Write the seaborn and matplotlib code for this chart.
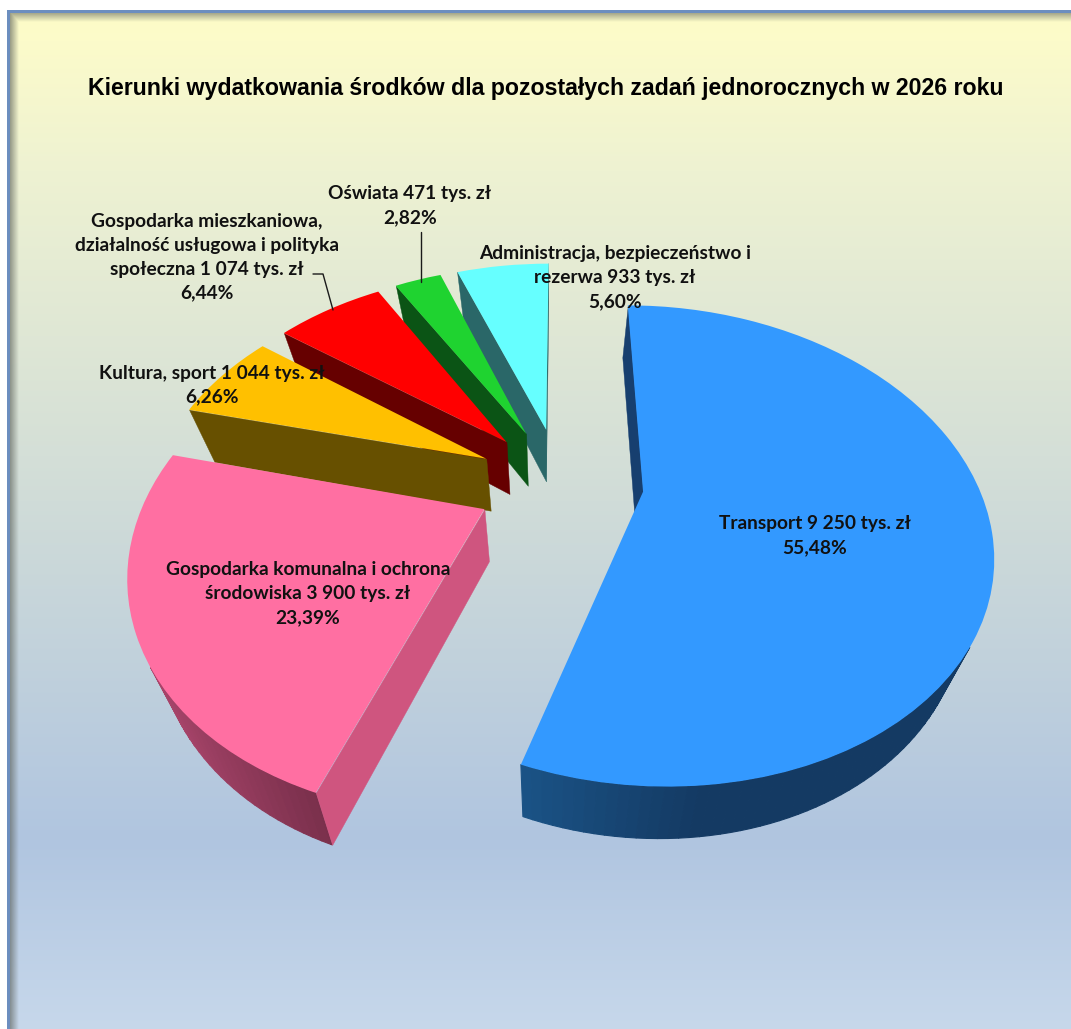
import numpy as np
import matplotlib
matplotlib.use("Agg")
import matplotlib.pyplot as plt
import seaborn as sns
from matplotlib.collections import PolyCollection
from matplotlib.colors import to_rgb
from matplotlib.transforms import Transform

# =====================================================
# DATA
# =====================================================

TITLE = "Kierunki wydatkowania środków dla pozostałych zadań jednorocznych w 2026 roku"
categories = [
    "Transport",
    "Gospodarka komunalna i ochrona\nśrodowiska",
    "Kultura, sport",
    "Gospodarka mieszkaniowa,\ndziałalność usługowa i polityka\nspołeczna",
    "Oświata",
    "Administracja, bezpieczeństwo i\nrezerwa",
]
values = [9250, 3900, 1044, 1074, 471, 933]
percents = ["55,48", "23,39", "6,26", "6,44", "2,82", "5,60"]

# =====================================================
# STYLE
# =====================================================

top_colors = ["#3399FF", "#FF6FA2", "#FFC000", "#FF0000", "#1FD330", "#66FFFF"]
cut_colors = ["#173F6F", "#CF557F", "#675000", "#660000", "#0B5415", "#2A6768"]
rim_left = ["#1A5285", "#A9456B", "#675000", "#660000", "#0B5415", "#2A6768"]
rim_right = ["#143A63", "#7A304C", "#675000", "#660000", "#0B5415", "#2A6768"]
draw_order = [5, 4, 3, 2, 1, 0]
label_pos = [(815, 536), (308, 594), (212, 385), (207, 257), (410, 206), (615, 278)]

EXPLODE = 0.25
CX, CY = 560, 482      # pie centre on the page
SCALE_X, SCALE_Y = 334, 224
PERSPECTIVE = 0.2235
VANISH_X = 550
DEPTH = 52
SHRINK = 0.07


class DiskProjection(Transform):
    """Disk coordinates -> page pixels, tilted with a bit of perspective."""
    input_dims = 2
    output_dims = 2
    is_separable = False
    has_inverse = False

    def __init__(self, z=0.0):
        super().__init__()
        self.z = z

    def transform_non_affine(self, xy):
        xy = np.asarray(xy, dtype=float)
        w = 1 + PERSPECTIVE * xy[:, 1]
        sx = CX + SCALE_X * xy[:, 0] / w
        sy = CY - SCALE_Y * xy[:, 1] / w
        sx = VANISH_X + (sx - VANISH_X) * (1 - SHRINK * self.z)
        sy = sy + DEPTH * self.z
        return np.column_stack([sx, sy])


def page_background(width, height):
    stops_y = [10, 40, 170, 500, 840, 1029]
    stops = np.array([to_rgb(c) for c in
                      ["#FDFCC6", "#FCFBCA", "#EEF2D2", "#D0DCD8", "#B0C5E0", "#C7D8EB"]])
    yy = np.arange(height)
    col = np.column_stack([np.interp(yy, stops_y, stops[:, i]) for i in range(3)])
    img = np.repeat(col[:, None, :], width, axis=1)

    # inner shadow along the left and top edge of the frame
    xx = np.arange(width)
    left = np.clip(1 - (xx - 9.5) / 9, 0, 1)[None, :]
    top = np.clip(1 - (yy - 12.5) / 9, 0, 1)[:, None]
    shade = np.maximum(left * 0.62, top * 0.55)[:, :, None]
    img = img * (1 - shade) + np.array(to_rgb("#5A5F58")) * shade

    # blue frame line, white page outside
    img[10:13, 7:] = to_rgb("#6C8EBF")
    img[10:, 7:10] = to_rgb("#6C8EBF")
    img[:10, :] = 1
    img[:, :7] = 1
    return img


def side_faces(wedge):
    """Quads of both cut faces and of the rim of a pie wedge, with a rim position 0..1."""
    cx, cy = wedge.center
    t = np.radians(np.arange(wedge.theta1, wedge.theta2, 1.5).tolist() + [wedge.theta2])
    rim = np.column_stack([cx + wedge.r * np.cos(t), cy + wedge.r * np.sin(t)])
    apex = np.array([[cx, cy]])
    outline = np.vstack([apex, rim, apex])
    upper = DiskProjection(0).transform_non_affine(outline)
    lower = DiskProjection(1).transform_non_affine(outline)
    cut, arc = [], []
    for i in range(len(outline) - 1):
        quad = np.array([upper[i], upper[i + 1], lower[i + 1], lower[i]])
        x, y = quad[:, 0], quad[:, 1]
        if np.sum(x * np.roll(y, -1) - np.roll(x, -1) * y) <= 0:
            continue
        if i == 0 or i == len(outline) - 2:
            cut.append(quad)
        else:
            arc.append((quad, quad[:, 0].mean()))
    return cut, arc


def main():
    sns.set_theme(style="white")
    plt.rcParams["font.family"] = ["Lato", "DejaVu Sans"]

    fig = plt.figure(figsize=(10.71, 10.29), dpi=100)
    ax = fig.add_axes([0, 0, 1, 1])

    wedges, _ = ax.pie(
        values, explode=[EXPLODE] * len(values), startangle=90, counterclock=False,
        colors=top_colors, wedgeprops={"linewidth": 0},
    )
    ax.set_aspect("auto")
    ax.axis("off")
    ax.imshow(page_background(1071, 1029), extent=(0, 1071, 1029, 0), aspect="auto",
              interpolation="nearest", zorder=0)
    ax.set_xlim(0, 1071)
    ax.set_ylim(1029, 0)

    top_transform = DiskProjection(0) + ax.transData
    for rank, idx in enumerate(draw_order):
        wedge = wedges[idx]
        wedge.set_transform(top_transform)
        wedge.set_zorder(2 + rank + 0.5)
        wedge.set_clip_on(False)

        cut, arc = side_faces(wedge)
        if arc:
            xs = np.array([a[1] for a in arc])
            frac = (xs - xs.min()) / max(xs.max() - xs.min(), 1)
            frac = np.clip(frac * 2.5, 0, 1) if idx == 0 else frac
            c0, c1 = np.array(to_rgb(rim_left[idx])), np.array(to_rgb(rim_right[idx]))
            cols = [tuple(c0 + (c1 - c0) * f) for f in frac]
            ax.add_collection(PolyCollection([a[0] for a in arc], facecolors=cols,
                                             edgecolors=cols, linewidths=0.8,
                                             zorder=2 + rank), autolim=False)
        if cut:
            ax.add_collection(PolyCollection(cut, facecolors=cut_colors[idx],
                                             edgecolors=cut_colors[idx], linewidths=0.3,
                                             zorder=2 + rank + 0.2), autolim=False)

    # leader lines
    ax.plot([421, 421], [232, 282], color="#1A1A1A", lw=1, zorder=12)
    ax.plot([313, 323, 333], [274, 274, 310], color="#1A1A1A", lw=1, zorder=12)

    for cat, val, pct, (x, y) in zip(categories, values, percents, label_pos):
        num = f"{val:,}".replace(",", " ")
        ax.text(x, y, f"{cat} {num} tys. zł\n{pct}%", ha="center", va="center",
                fontsize=13.8, fontweight="bold", color="#111111", linespacing=1.5,
                zorder=13)

    ax.text(546, 88, TITLE, ha="center", va="center", fontsize=16.7, fontweight="bold",
            family=["Liberation Sans", "DejaVu Sans"], color="black", zorder=13)

    fig.savefig("out.png", dpi=100)


if __name__ == "__main__":
    main()
